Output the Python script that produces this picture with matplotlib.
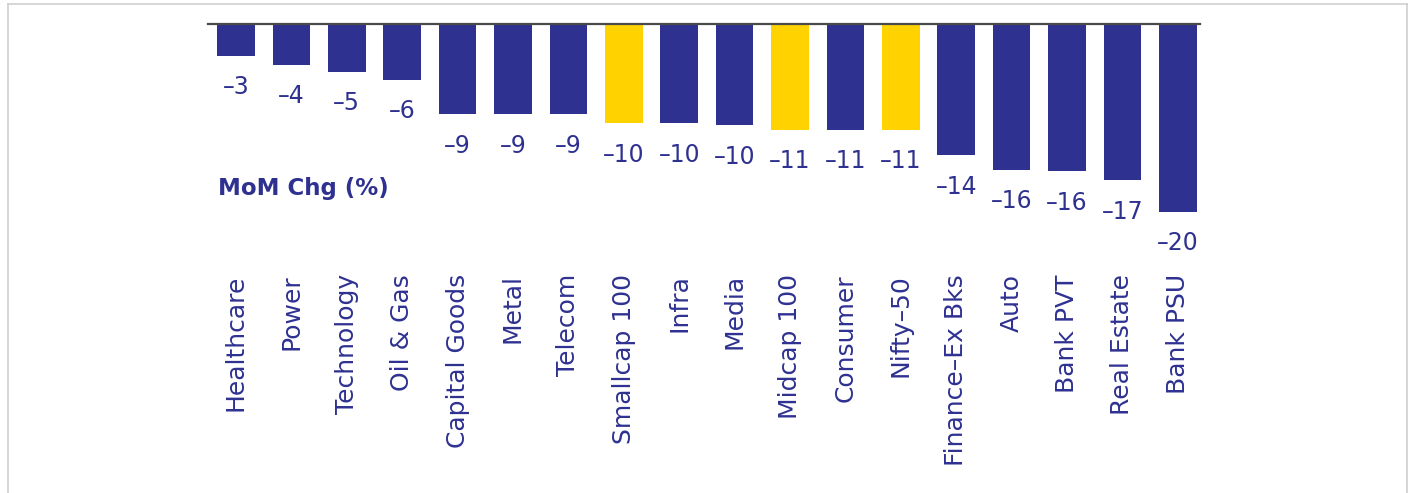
import matplotlib
matplotlib.use("Agg")
import matplotlib.pyplot as plt
from matplotlib.lines import Line2D

categories = ["Healthcare", "Power", "Technology", "Oil & Gas", "Capital Goods",
              "Metal", "Telecom", "Smallcap 100", "Infra", "Media", "Midcap 100",
              "Consumer", "Nifty–50", "Finance–Ex Bks", "Auto", "Bank PVT",
              "Real Estate", "Bank PSU"]
values = [-3.33, -4.32, -5.06, -5.88, -9.55, -9.55, -9.55, -10.51, -10.51,
          -10.72, -11.22, -11.22, -11.22, -13.9, -15.43, -15.6, -16.56, -19.9]
labels = [-3, -4, -5, -6, -9, -9, -9, -10, -10, -10, -11, -11, -11, -14,
          -16, -16, -17, -20]
highlight = ["Smallcap 100", "Midcap 100", "Nifty–50"]

NAVY = "#2E3190"
YELLOW = "#FFD200"

plt.rcParams['font.family'] = ['DejaVu Sans']

W, H = 1410, 493
fig = plt.figure(figsize=(W / 100, H / 100), dpi=100)
fig.patch.set_facecolor("white")

ax = fig.add_axes([208 / W, 1 - 269.3 / H, (1200 - 208) / W, (269.3 - 24.3) / H])
x = list(range(len(categories)))
colors = [YELLOW if c in highlight else NAVY for c in categories]
ax.bar(x, values, width=0.68, color=colors, zorder=2)

for xi, v, lab in zip(x, values, labels):
    ax.annotate(f"–{abs(lab)}", xy=(xi, v), xytext=(0, -14),
                textcoords="offset points", ha="center", va="top",
                fontsize=17, color=NAVY)

ax.set_xlim(-0.505, 17.4)
ax.set_ylim(-26, 0)
ax.set_xticks(x)
ax.set_xticklabels(categories, rotation=90, fontsize=18, color=NAVY)
ax.tick_params(axis="x", length=0, pad=3.5)
ax.set_yticks([])
for s in ["left", "right", "bottom"]:
    ax.spines[s].set_visible(False)
ax.spines["top"].set_color("#4a4a4a")
ax.spines["top"].set_linewidth(1.6)
ax.patch.set_alpha(0)

fig.text(218 / W, 1 - 189 / H, "MoM Chg (%)", fontsize=16.5, fontweight="bold",
         color=NAVY, va="center", ha="left")

# outer frame (left, top, right)
fc = "#cfcfcf"
fig.add_artist(Line2D([8 / W, 8 / W], [0, 1 - 4 / H], color=fc, lw=1.2, transform=fig.transFigure))
fig.add_artist(Line2D([8 / W, 1406.5 / W], [1 - 4 / H, 1 - 4 / H], color=fc, lw=1.2, transform=fig.transFigure))
fig.add_artist(Line2D([1406.5 / W, 1406.5 / W], [0, 1 - 4 / H], color=fc, lw=1.2, transform=fig.transFigure))

fig.savefig("out.png", dpi=100, facecolor="white")
